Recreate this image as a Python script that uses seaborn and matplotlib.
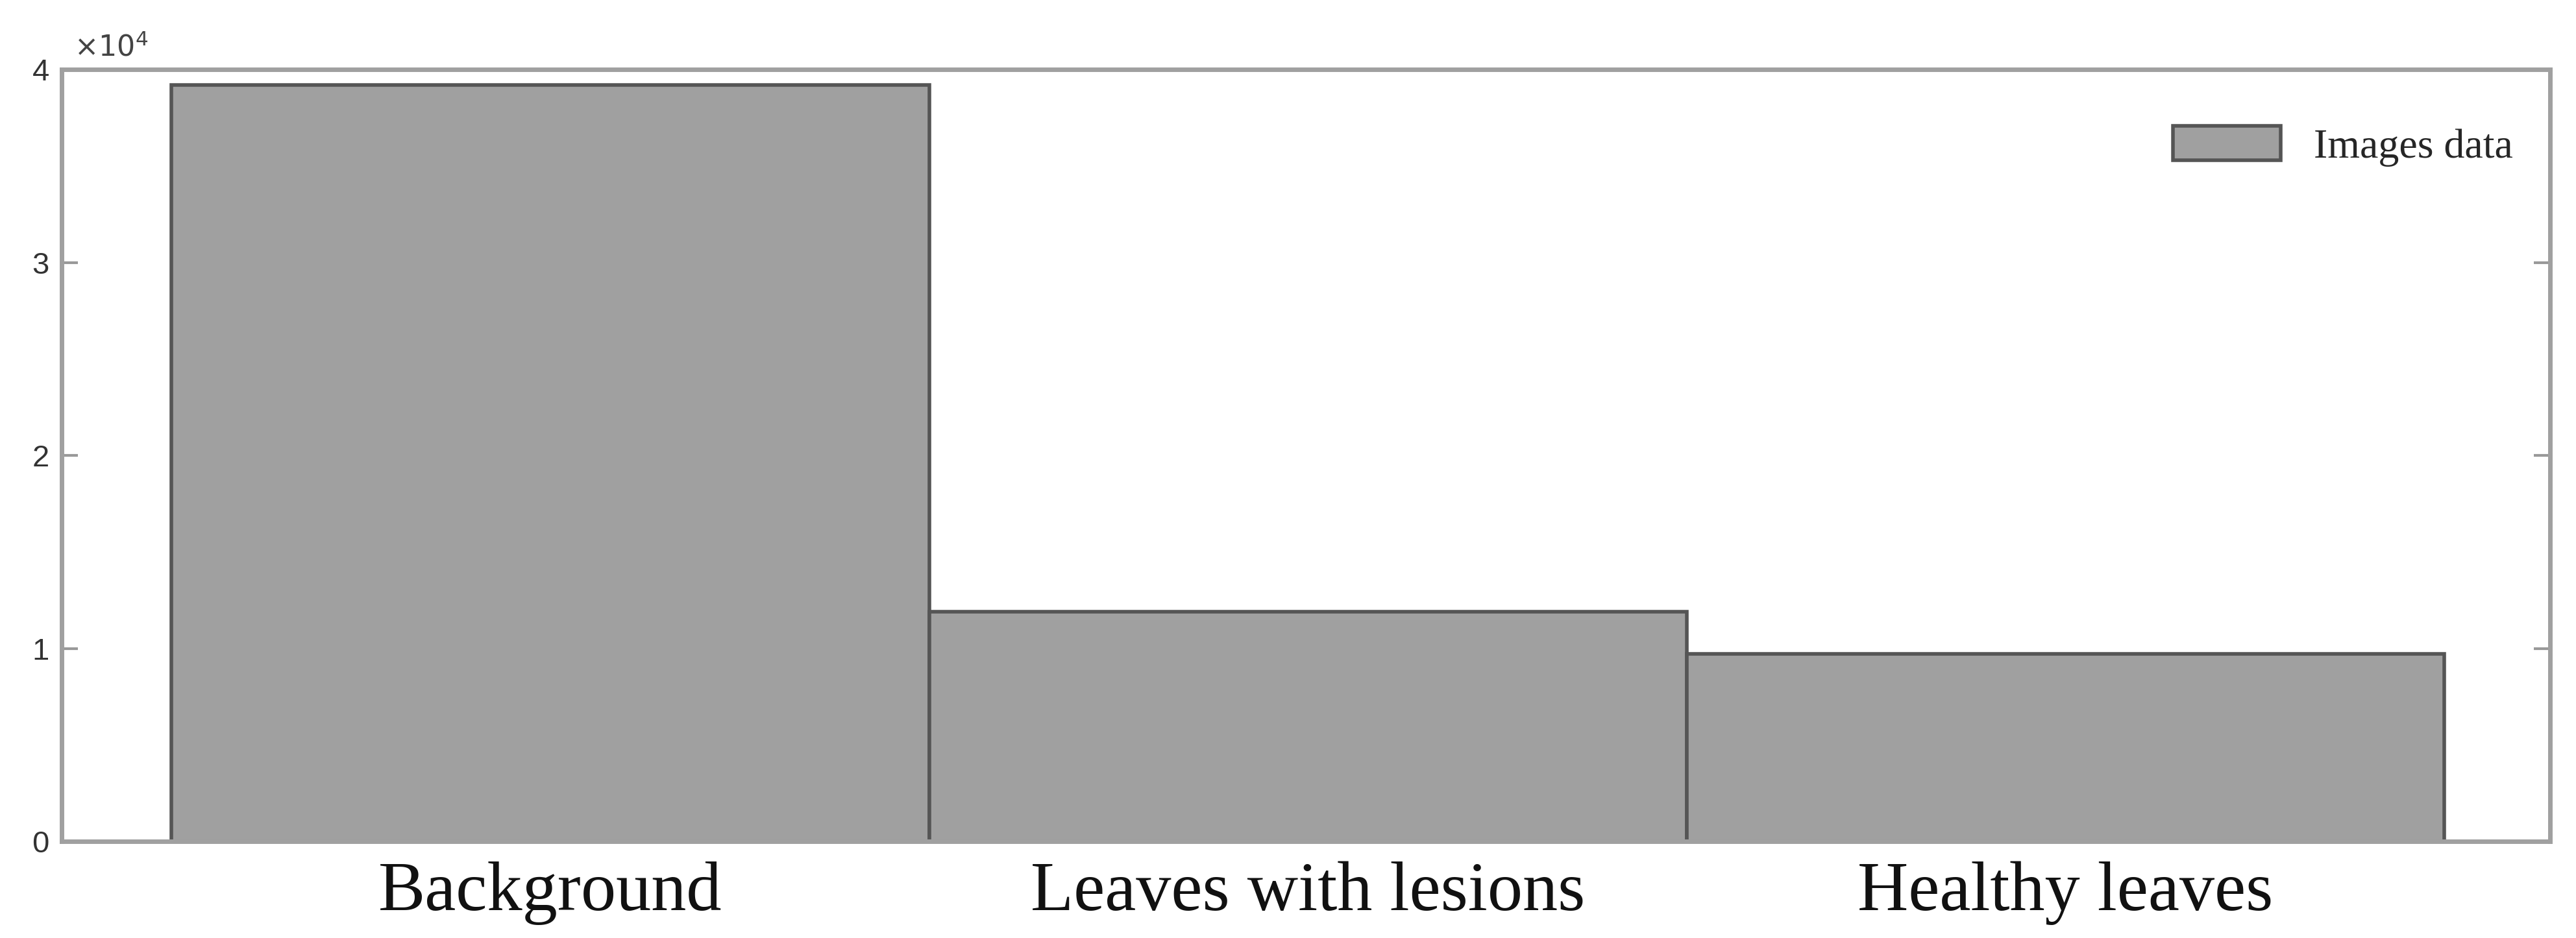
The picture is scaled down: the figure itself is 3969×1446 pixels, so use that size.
import matplotlib
matplotlib.use("Agg")
import matplotlib.pyplot as plt
import seaborn as sns
import pandas as pd

categories = ["Background", "Leaves with lesions", "Healthy leaves"]
values = [39200, 11900, 9700]
series_name = "Images data"

sns.set_style("white")
df = pd.DataFrame({"cat": categories, "val": values})

fig = plt.figure(figsize=(39.69, 14.46), dpi=100)
ax = fig.add_axes([0.024, 0.103, 0.966, 0.823])
sns.barplot(data=df, x="cat", y="val", ax=ax, color="#a0a0a0", width=1.0,
            edgecolor="#555555", linewidth=4, saturation=1, label=series_name)
ax.set_xlim(-0.645, 2.64)
ax.set_ylim(0, 40000)
ax.set_yticks([0, 10000, 20000, 30000, 40000])
ax.set_yticklabels(["0", "1", "2", "3", "4"], fontsize=34, color="#333333",
                   family="Liberation Sans")
ax.set_xticks(range(3))
ax.set_xticklabels(categories, fontsize=78, family="Liberation Serif", color="#111111")
ax.set_xlabel("")
ax.set_ylabel("")
ax.tick_params(axis="y", direction="in", length=18, width=3, color="#999999",
               right=True, left=True, pad=14)
ax.tick_params(axis="x", length=0, pad=22)
for s in ax.spines.values():
    s.set_color("#a0a0a0")
    s.set_linewidth(5)
ax.text(0.005, 1.01, r"$\times10^4$", transform=ax.transAxes, fontsize=32,
        color="#444444", family="Liberation Sans", va="bottom", ha="left")
leg = ax.legend(loc="upper right", prop={"family": "Liberation Serif", "size": 46},
                frameon=False, handlelength=2.6, handleheight=0.9,
                bbox_to_anchor=(1.0, 0.975))
fig.savefig("out.png", dpi=100, facecolor="white")
